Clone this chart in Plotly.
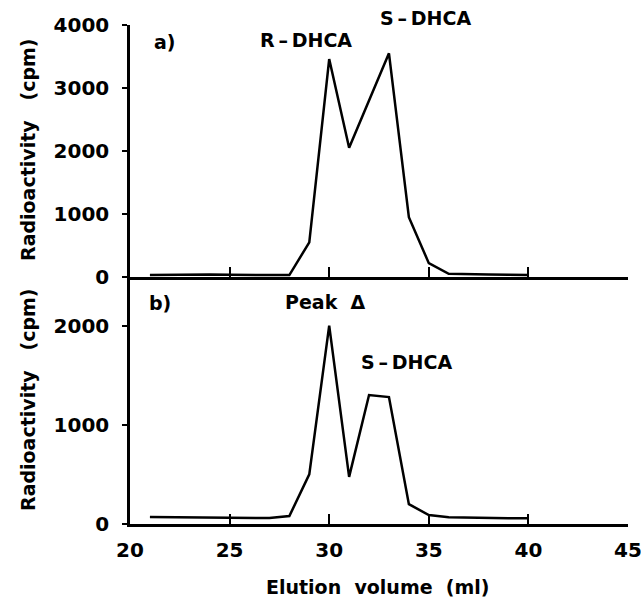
import plotly.graph_objects as go
from plotly.subplots import make_subplots

# Panel a) data
vol_a = [21, 22, 23, 24, 25, 26, 27, 28, 29, 30, 31, 32, 33, 34, 35, 36, 37, 38, 39, 40]
cpm_a = [30, 35, 40, 40, 35, 30, 30, 30, 550, 3460, 2050, 2800, 3550, 950, 220, 50, 40, 40, 35, 30]

# Panel b) data
vol_b = [21, 22, 23, 24, 25, 26, 27, 28, 29, 30, 31, 32, 33, 34, 35, 36, 37, 38, 39, 40]
cpm_b = [70, 68, 65, 62, 60, 60, 60, 80, 500, 2000, 475, 1300, 1280, 200, 90, 67, 62, 60, 58, 57]

x_ticks = [20, 25, 30, 35, 40, 45]
ya_ticks = [0, 1000, 2000, 3000, 4000]
yb_ticks = [0, 1000, 2000]

FONT = "DejaVu Sans"
W, H = 641, 598
L, R, T, B = 130, 13, 25, 74
PW, PH = W - L - R, H - T - B
split = (524 - 277) / PH

fig = make_subplots(rows=2, cols=1, shared_xaxes=True, vertical_spacing=0,
                    row_heights=[1 - split, split])

line = dict(color="black", width=2.5)
fig.add_trace(go.Scatter(x=vol_a, y=cpm_a, mode="lines", line=line, showlegend=False), row=1, col=1)
fig.add_trace(go.Scatter(x=vol_b, y=cpm_b, mode="lines", line=line, showlegend=False), row=2, col=1)

xcommon = dict(range=[20, 45], tickvals=x_ticks, ticks="inside", ticklen=10, tickwidth=2,
               tickcolor="black", showline=True, linecolor="black", linewidth=2.5,
               showgrid=False, zeroline=False, automargin=False)
fig.update_xaxes(**xcommon, showticklabels=False, row=1, col=1)
fig.update_xaxes(**xcommon, showticklabels=True, ticklabelstandoff=6, ticklabeloverflow="allow",
                 tickfont=dict(family=FONT, size=20, color="black", weight="bold"), row=2, col=1)

ycommon = dict(ticks="outside", ticklen=5, tickwidth=2, tickcolor="black", showline=True,
               linecolor="black", linewidth=2.5, showgrid=False, zeroline=False,
               ticklabelstandoff=9, ticklabeloverflow="allow", automargin=False,
               tickfont=dict(family=FONT, size=20, color="black", weight="bold"))
fig.update_yaxes(**ycommon, range=[0, 4000], tickvals=ya_ticks, row=1, col=1)
fig.update_yaxes(**ycommon, range=[0, 2490], tickvals=yb_ticks, row=2, col=1)

def px(xpix):
    return (xpix - L) / PW

def py(ypix):
    return (H - B - ypix) / PH

afont = dict(family=FONT, size=19, color="black", weight="bold")
labels = [
    ("a)", 165, 42), ("R\u2009\u2013\u2009DHCA", 306, 40), ("S\u2009\u2013\u2009DHCA", 425, 18),
    ("b)", 160, 303), ("Peak  \u0394", 325, 302), ("S\u2009\u2013\u2009DHCA", 406, 362),
]
for text, xp, yp in labels:
    fig.add_annotation(text=text, x=px(xp), y=py(yp), xref="paper", yref="paper",
                       showarrow=False, font=afont, xanchor="center", yanchor="middle")

for yc in (150, 400):
    fig.add_annotation(text="Radioactivity   (cpm)", x=px(28), y=py(yc), xref="paper", yref="paper",
                       showarrow=False, font=afont, textangle=-90,
                       xanchor="center", yanchor="middle")
fig.add_annotation(text="Elution  volume  (ml)", x=px(378), y=py(587), xref="paper", yref="paper",
                   showarrow=False, font=afont, xanchor="center", yanchor="middle")

fig.update_layout(width=W, height=H, margin=dict(l=L, r=R, t=T, b=B, autoexpand=False),
                  plot_bgcolor="white", paper_bgcolor="white")
fig.write_html("out.html", config={"displayModeBar": False},
               post_script="document.body.style.margin='0';document.body.style.overflow='hidden';")
